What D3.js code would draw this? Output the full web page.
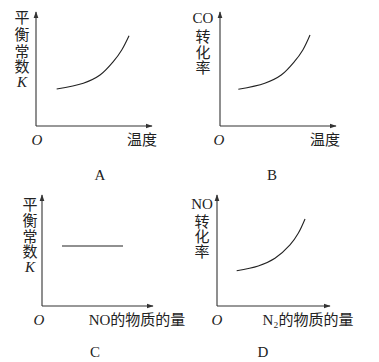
<!DOCTYPE html>
<html>
<head>
<meta charset="utf-8">
<script src="https://cdn.jsdelivr.net/npm/d3@7"></script>
<style>
  body { margin: 0; background: #fff; }
  text { font-family: "Liberation Serif", "Noto Sans CJK SC", serif; fill: #222; }
</style>
</head>
<body>
<svg id="chart" width="379" height="362"></svg>
<script>
// curve values in axis units (0..10 on both axes)
const curveA = [[1.78, 3.25], [4.08, 3.75], [5.52, 4.47], [6.66, 5.64], [7.39, 6.67], [8.02, 7.92]];
const curveB = [[1.58, 3.22], [3.86, 3.75], [5.28, 4.47], [6.41, 5.64], [7.14, 6.67], [7.76, 7.98]];
const lineC = [[1.8, 5.4], [7.3, 5.4]];
const curveD = [[1.74, 3.18], [3.65, 3.6], [5.13, 4.3], [6.46, 5.5], [7.19, 6.55], [7.79, 7.84]];

const panelLetters = ["A", "B", "C", "D"];
const yLabels = [
  ["平", "衡", "常", "数", "K"],
  ["CO", "转", "化", "率"],
  ["平", "衡", "常", "数", "K"],
  ["NO", "转", "化", "率"]
];
const xLabels = ["温度", "温度", "NO的物质的量", "N₂的物质的量"];

(function () {
  const svg = d3.select("#chart");

  svg.append("defs").append("marker")
    .attr("id", "arrow")
    .attr("viewBox", "0 0 10 10")
    .attr("refX", 9).attr("refY", 5)
    .attr("markerWidth", 7).attr("markerHeight", 7)
    .attr("markerUnits", "userSpaceOnUse")
    .attr("orient", "auto")
    .append("path")
    .attr("d", "M0,1.5L10,5L0,8.5z")
    .attr("fill", "#333");

  // layout of each small panel
  const panels = [
    { data: curveA, x0: 36, x1: 152, y0: 126, y1: 12, labX: 22, labY: [18, 35, 52, 67, 82], oX: 37, xlX: 142, letX: 100, letY: 175 },
    { data: curveB, x0: 220, x1: 336, y0: 126, y1: 12, labX: 203, labY: [18, 37, 53, 68], oX: 219, xlX: 325, letX: 272, letY: 175 },
    { data: lineC, x0: 42, x1: 153, y0: 306, y1: 195, labX: 30, labY: [205, 221, 237, 252, 267], oX: 39, xlX: 137, letX: 95, letY: 352 },
    { data: curveD, x0: 217, x1: 330, y0: 306, y1: 195, labX: 202, labY: [204, 222, 237, 252], oX: 217, xlX: 308, letX: 263, letY: 352 }
  ];

  panels.forEach((p, i) => {
    const g = svg.append("g");
    const x = d3.scaleLinear().domain([0, 10]).range([p.x0, p.x1]);
    const y = d3.scaleLinear().domain([0, 10]).range([p.y0, p.y1]);

    // axes
    g.append("line")
      .attr("x1", x(0)).attr("y1", y(0)).attr("x2", x(10)).attr("y2", y(0))
      .attr("stroke", "#333").attr("stroke-width", 1.1)
      .attr("marker-end", "url(#arrow)");
    g.append("line")
      .attr("x1", x(0)).attr("y1", y(0)).attr("x2", x(0)).attr("y2", y(10))
      .attr("stroke", "#333").attr("stroke-width", 1.1)
      .attr("marker-end", "url(#arrow)");

    const line = d3.line()
      .x((d) => x(d[0]))
      .y((d) => y(d[1]))
      .curve(d3.curveCatmullRom.alpha(0.5));

    g.append("path")
      .datum(p.data)
      .attr("fill", "none")
      .attr("stroke", "#222")
      .attr("stroke-width", 1.1)
      .attr("d", line);

    // vertical axis title, one glyph per row
    yLabels[i].forEach((t, j) => {
      g.append("text")
        .attr("x", p.labX)
        .attr("y", p.labY[j])
        .attr("dy", "0.35em")
        .attr("text-anchor", "middle")
        .attr("font-size", 15)
        .attr("font-style", t === "K" ? "italic" : null)
        .text(t);
    });

    g.append("text")
      .attr("x", p.oX).attr("y", p.y0 + 14)
      .attr("dy", "0.35em")
      .attr("text-anchor", "middle")
      .attr("font-size", 15)
      .attr("font-style", "italic")
      .text("O");

    g.append("text")
      .attr("x", p.xlX).attr("y", p.y0 + 14)
      .attr("dy", "0.35em")
      .attr("text-anchor", "middle")
      .attr("font-size", 15)
      .text(xLabels[i]);

    g.append("text")
      .attr("x", p.letX).attr("y", p.letY)
      .attr("dy", "0.35em")
      .attr("text-anchor", "middle")
      .attr("font-size", 15)
      .text(panelLetters[i]);
  });
})();
</script>
</body>
</html>
